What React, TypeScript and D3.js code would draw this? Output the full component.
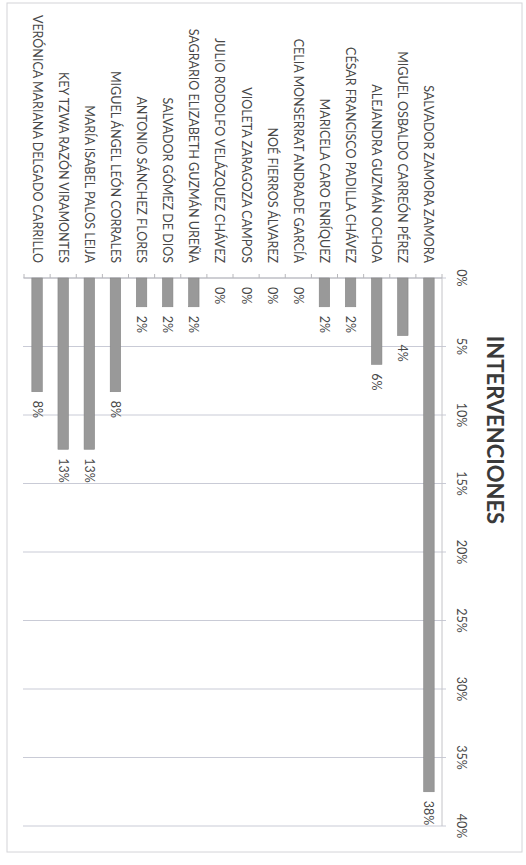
import React from 'react';
import * as d3 from 'd3';

// names top to bottom (first category sits next to the value axis)
const names = [
  'SALVADOR ZAMORA ZAMORA',
  'MIGUEL OSBALDO CARREÓN PÉREZ',
  'ALEJANDRA GUZMÁN OCHOA',
  'CÉSAR FRANCISCO PADILLA CHÁVEZ',
  'MARICELA CARO ENRÍQUEZ',
  'CELIA MONSERRAT ANDRADE GARCÍA',
  'NOÉ FIERROS ÁLVAREZ',
  'VIOLETA ZARAGOZA CAMPOS',
  'JULIO RODOLFO VELÁZQUEZ CHÁVEZ',
  'SAGRARIO ELIZABETH GUZMÁN UREÑA',
  'SALVADOR GÓMEZ DE DIOS',
  'ANTONIO SÁNCHEZ FLORES',
  'MIGUEL ÁNGEL LEÓN CORRALES',
  'MARÍA ISABEL PALOS LEIJA',
  'KEY TZWA RAZÓN VIRAMONTES',
  'VERÓNICA MARIANA DELGADO CARRILLO',
];

// percent of interventions
const shares = [37.5, 4.2, 6.3, 2.1, 2.1, 0, 0, 0, 0, 2.1, 2.1, 2.1, 8.3, 12.5, 12.5, 8.3];

const ticks = [0, 5, 10, 15, 20, 25, 30, 35, 40];

const W = 865; // chart drawn unrotated, then turned 90deg clockwise
const H = 526;
const plot = { left: 278, right: 826, top: 84, bottom: 502 };
const font = 'Lato, "Open Sans", sans-serif';
const textColor = '#484848';

export default function App() {
  const x = d3.scaleLinear().domain([0, 40]).range([plot.left, plot.right]);
  const y = d3.scaleBand<string>().domain(names).range([plot.top, plot.bottom]).paddingInner(0.6).paddingOuter(0.3);
  const band = d3.scaleBand<string>().domain(names).range([plot.top, plot.bottom]);
  const rows = names.map((n, i) => ({ name: n, value: shares[i] }));

  return (
    <svg width={526} height={W} style={{ position: 'absolute', left: 0, top: 0, background: '#fff' }}>
      <g transform={`translate(${H},0) rotate(90)`}>
        <rect x={3} y={4} width={849} height={515} fill="#fff" stroke="#d4d4d8" strokeWidth={1} />

        <text x={430} y={31} textAnchor="middle" dominantBaseline="central"
          fontFamily={font} fontWeight={700} fontSize={22} fill="#3a3a3a">INTERVENCIONES</text>

        {/* gridlines */}
        {ticks.map(t => (
          <line key={'g' + t} x1={x(t)} x2={x(t)} y1={plot.top - 4} y2={plot.bottom + 1} stroke="#c9cbd6" strokeWidth={1} />
        ))}
        {/* value axis */}
        <line x1={plot.left} x2={plot.right} y1={plot.top} y2={plot.top} stroke="#c4c4c8" />
        {ticks.map(t => (
          <text key={'t' + t} x={x(t)} y={65} textAnchor="middle" dominantBaseline="central"
            fontFamily={font} fontSize={12.5} fill={textColor}>{t}%</text>
        ))}

        {/* category axis */}
        <line x1={plot.left} x2={plot.left} y1={plot.top} y2={plot.bottom} stroke="#b8b8bc" />
        {names.map(n => (
          <line key={'k' + n} x1={plot.left - 4} x2={plot.left} y1={band(n)!} y2={band(n)!} stroke="#b8b8bc" />
        ))}
        <line x1={plot.left - 4} x2={plot.left} y1={plot.bottom} y2={plot.bottom} stroke="#b8b8bc" />
        {names.map(n => (
          <text key={'l' + n} x={263} y={band(n)! + band.bandwidth() / 2} textAnchor="end" dominantBaseline="central"
            fontFamily={font} fontSize={12.5} fill={textColor}>{n}</text>
        ))}

        {/* bars */}
        {rows.map(d => (
          <rect key={'b' + d.name} x={x(0)} y={y(d.name)!} width={x(d.value) - x(0)} height={y.bandwidth()}
            fill="#999999" stroke="#858585" strokeWidth={d.value > 0 ? 0.6 : 0} />
        ))}
        {rows.map(d => (
          <text key={'v' + d.name} x={x(d.value) + 9} y={band(d.name)! + band.bandwidth() / 2} dominantBaseline="central"
            fontFamily={font} fontSize={12.5} fill={textColor}>{Math.round(d.value)}%</text>
        ))}
      </g>
    </svg>
  );
}
